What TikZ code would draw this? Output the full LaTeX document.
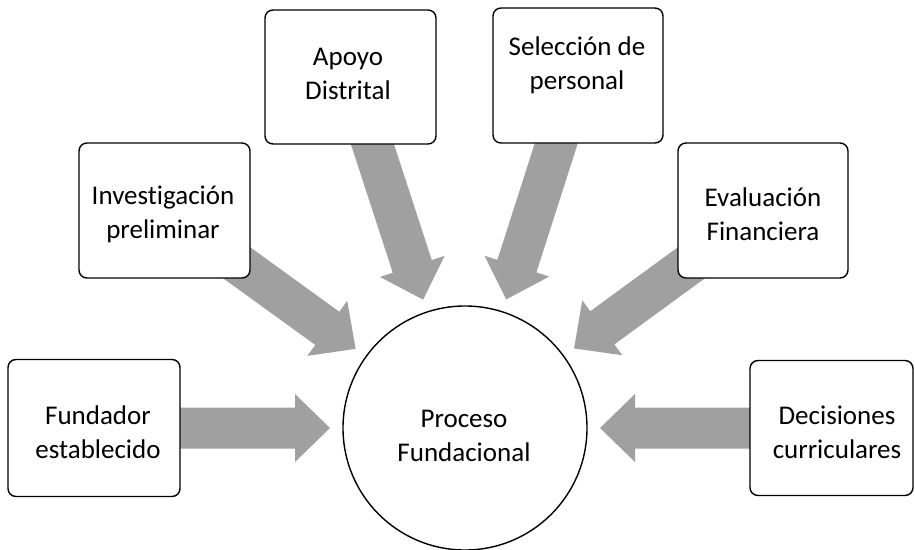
\documentclass[tikz,border=0pt]{standalone}
\usepackage{fontspec}
\setmainfont[Ligatures=CommonOff]{Carlito}
\usetikzlibrary{calc}
\definecolor{arrowgray}{RGB}{160,160,160}
\newcommand\blockarrow[2]{%
  \coordinate (tmpB) at ($(#2)!35pt!(#1)$);
  \fill[arrowgray] ($(#1)!20.5pt!90:(#2)$) -- ($(tmpB)!20.5pt!-90:(#1)$)
    -- ($(tmpB)!34pt!-90:(#1)$) -- (#2) -- ($(tmpB)!34pt!90:(#1)$)
    -- ($(tmpB)!20.5pt!90:(#1)$) -- ($(#1)!20.5pt!-90:(#2)$) -- cycle;}
\begin{document}
\begin{tikzpicture}[x=1pt,y=-1pt,
  box/.style={draw=black, line width=1.4pt, fill=white, rectangle,
    rounded corners=8pt, inner sep=0pt},
  txt/.style={align=center, font=\fontsize{27}{34}\selectfont, inner sep=0pt},
  hub/.style={draw=black, line width=1.4pt, fill=white, circle, inner sep=0pt,
    minimum size=244pt}]
\useasboundingbox (0,0) rectangle (915,549);
\node[hub] (proc) at (465,428) {};
\coordinate (fundc) at (94,428);
\coordinate (invc) at (164.5,210.5);
\coordinate (apoc) at (350.5,77);
\coordinate (selc) at (578,75.5);
\coordinate (evac) at (763,210.5);
\coordinate (decc) at (831.5,428);
\foreach \s/\n in {fundc/t1,invc/t2,apoc/t3,selc/t4,evac/t5,decc/t6}
  \coordinate (\n) at ($(proc.center)!135pt!(\s)$);
\blockarrow{fundc}{t1}
\blockarrow{invc}{t2}
\blockarrow{apoc}{t3}
\blockarrow{selc}{t4}
\blockarrow{evac}{t5}
\blockarrow{decc}{t6}
% boxes
\node[box, minimum width=172pt, minimum height=137pt] (fund) at (fundc) {};
\node[box, minimum width=171pt, minimum height=135pt] (inv) at (invc) {};
\node[box, minimum width=171pt, minimum height=134pt] (apo) at (apoc) {};
\node[box, minimum width=170pt, minimum height=135pt] (sel) at (selc) {};
\node[box, minimum width=170pt, minimum height=135pt] (eva) at (evac) {};
\node[box, minimum width=163pt, minimum height=135pt] (dec) at (decc) {};
% texts
\node[txt] (proct) at (464,436) {Proceso\\Fundacional};
\node[txt] (fundt) at (98,432) {Fundador\\establecido};
\node[txt] (invt) at (163,214) {Investigación\\preliminar};
\node[txt] (apot) at (348,74) {Apoyo\\Distrital};
\node[txt] (selt) at (577,65) {Selección de\\personal};
\node[txt] (evat) at (763,214) {Evaluación\\Financiera};
\node[txt] (dect) at (837,432) {Decisiones\\curriculares};
\end{tikzpicture}
\end{document}
